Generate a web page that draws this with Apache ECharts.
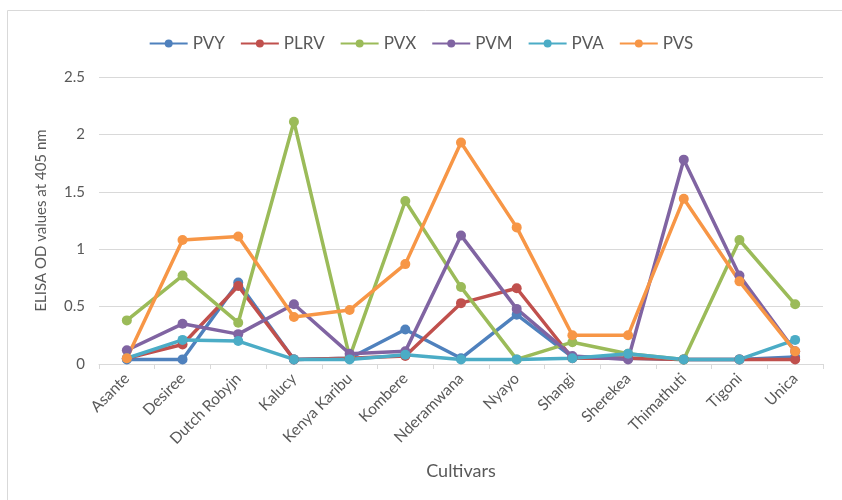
<!DOCTYPE html>
<html><head><meta charset="utf-8">
<script src="https://cdn.jsdelivr.net/npm/echarts@6/dist/echarts.min.js"></script>
<style>html,body{margin:0;padding:0;background:#fff}#c{width:842px;height:500px}</style>
</head><body><div id="c"></div>
<script>
const categories = ['Asante','Desiree','Dutch Robyjn','Kalucy','Kenya Karibu','Kombere','Nderamwana','Nyayo','Shangi','Sherekea','Thimathuti','Tigoni','Unica'];
const PVY  = [0.04,0.04,0.71,0.04,0.05,0.30,0.05,0.43,0.06,0.05,0.04,0.04,0.06];
const PLRV = [0.05,0.17,0.68,0.04,0.05,0.07,0.53,0.66,0.05,0.05,0.04,0.04,0.04];
const PVX  = [0.38,0.77,0.36,2.11,0.06,1.42,0.67,0.04,0.19,0.09,0.04,1.08,0.52];
const PVM  = [0.12,0.35,0.26,0.52,0.09,0.11,1.12,0.48,0.07,0.04,1.78,0.77,0.11];
const PVA  = [0.05,0.21,0.20,0.04,0.04,0.08,0.04,0.04,0.05,0.09,0.04,0.04,0.21];
const PVS  = [0.05,1.08,1.11,0.41,0.47,0.87,1.93,1.19,0.25,0.25,1.44,0.72,0.11];
const yTicks = [0,0.5,1,1.5,2,2.5];

const names = ['PVY','PLRV','PVX','PVM','PVA','PVS'];
const dataSets = [PVY,PLRV,PVX,PVM,PVA,PVS];
const colors = ['#4F81BD','#C0504D','#9BBB59','#8064A2','#4BACC6','#F79646'];
const font = 'Lato, "Open Sans", "Noto Sans", sans-serif';

const chart = echarts.init(document.getElementById('c'), null, {renderer:'canvas'});
chart.setOption({
  animation:false,
  color: colors,
  graphic:[{type:'rect', shape:{x:7.5,y:10.5,width:840,height:500}, style:{fill:'none',stroke:'#d9d9d9',lineWidth:1}}],
  legend:{top:30, left:'center', itemWidth:38, itemHeight:10, itemGap:15,
    textStyle:{fontFamily:font, fontSize:17, color:'#595959'},
    data: names},
  grid:{left:99, right:19, top:77, bottom:136},
  xAxis:{type:'category', data:categories, boundaryGap:true,
    name:'Cultivars', nameLocation:'middle', nameGap:98,
    nameTextStyle:{fontFamily:font, fontSize:18, color:'#595959'},
    axisLine:{lineStyle:{color:'#d9d9d9', width:1}},
    axisTick:{show:true, length:5, alignWithLabel:false, lineStyle:{color:'#d9d9d9'}},
    axisLabel:{rotate:45, interval:0, fontFamily:font, fontSize:15.5, color:'#595959', margin:12}},
  yAxis:{type:'value', min:yTicks[0], max:yTicks[yTicks.length-1], interval:0.5,
    name:'ELISA OD values at 405 nm', nameLocation:'middle', nameGap:50,
    nameTextStyle:{fontFamily:font, fontSize:15, color:'#595959'},
    axisLine:{show:false}, axisTick:{show:false},
    axisLabel:{fontFamily:font, fontSize:15, color:'#595959', margin:14},
    splitLine:{lineStyle:{color:'#d9d9d9', width:1}}},
  series: names.map((n,i)=>({name:n, type:'line', data:dataSets[i],
    symbol:'circle', symbolSize:10, lineStyle:{width:3.5, color:colors[i]},
    itemStyle:{color:colors[i]}}))
});
</script></body></html>
